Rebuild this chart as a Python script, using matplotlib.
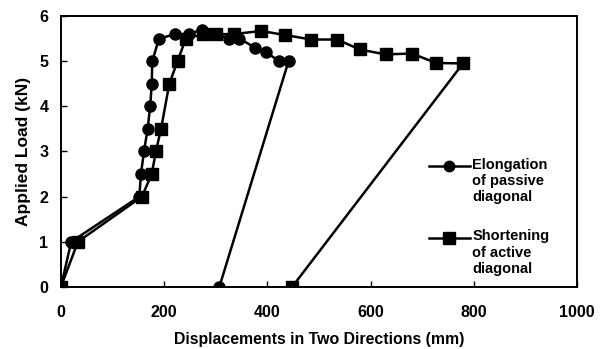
import matplotlib
matplotlib.use("Agg")
import matplotlib.pyplot as plt

plt.rcParams['font.family'] = ['Liberation Sans', 'DejaVu Sans']
plt.rcParams['font.weight'] = 'bold'

# Elongation of passive diagonal
elong_x = [0, 20, 152, 155, 161, 168, 173, 176, 177, 190, 222, 248, 274, 300, 326, 346, 376, 397, 423, 441, 307]
elong_y = [0, 1, 2, 2.5, 3, 3.5, 4, 4.5, 5, 5.5, 5.6, 5.6, 5.7, 5.6, 5.5, 5.5, 5.3, 5.2, 5.0, 5.0, 0]

# Shortening of active diagonal
short_x = [0, 33, 157, 176, 184, 194, 210, 226, 242, 275, 300, 335, 388, 434, 485, 535, 579, 629, 680, 727, 779, 448]
short_y = [0, 1, 2, 2.5, 3, 3.5, 4.5, 5, 5.5, 5.6, 5.6, 5.6, 5.67, 5.58, 5.48, 5.48, 5.26, 5.15, 5.17, 4.96, 4.95, 0]

x_ticks = [0, 200, 400, 600, 800, 1000]
y_ticks = [0, 1, 2, 3, 4, 5, 6]
labels = ["Elongation\nof passive\ndiagonal", "Shortening\nof active\ndiagonal"]

fig = plt.figure(figsize=(6.03, 3.49), dpi=100)
ax = fig.add_axes([0.101, 0.178, 0.856, 0.776])

ax.plot(short_x, short_y, color='black', lw=1.8, marker='s', ms=8.5, mfc='black', mec='black')
ax.plot(elong_x, elong_y, color='black', lw=1.8, marker='o', ms=8, mfc='black', mec='black')

ax.set_xlim(0, 1000)
ax.set_ylim(0, 6)
ax.set_xticks(x_ticks)
ax.set_yticks(y_ticks)
ax.tick_params(direction='in', length=4, width=1, labelsize=11.5)
ax.tick_params(axis='x', pad=13)
ax.tick_params(axis='y', pad=9)
for lab in ax.get_xticklabels() + ax.get_yticklabels():
    lab.set_fontweight('bold')
for s in ax.spines.values():
    s.set_linewidth(1.4)

ax.set_xlabel("Displacements in Two Directions (mm)", fontsize=11.4, fontweight='bold', labelpad=9)
ax.set_ylabel("Applied Load (kN)", fontsize=12.5, fontweight='bold', labelpad=6)

# manual legend
leg_markers = ['o', 's']
leg_y = [0.445, 0.180]
for m, yy, lab in zip(leg_markers, leg_y, labels):
    ax.plot([0.713, 0.792], [yy, yy], transform=ax.transAxes, color='black', lw=1.8,
            clip_on=False)
    ax.plot([0.752], [yy], transform=ax.transAxes, marker=m, ms=7.5 if m == 'o' else 8,
            color='black', clip_on=False)
    ax.text(0.797, yy + 0.032, lab, transform=ax.transAxes, fontsize=10.5, fontweight='bold',
            va='top', ha='left', linespacing=1.2)

fig.savefig("out.png", dpi=100)
